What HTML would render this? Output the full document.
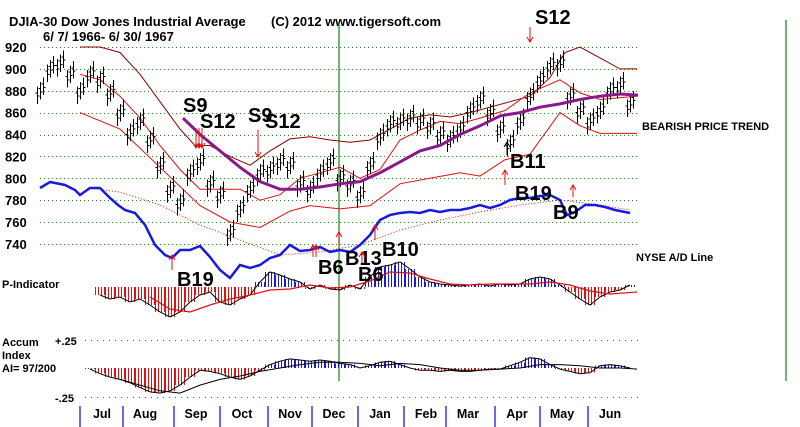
<!DOCTYPE html>
<html><head><meta charset="utf-8"><style>
body{margin:0;background:#fff;}
svg{display:block;font-family:"Liberation Sans",sans-serif;}
.t{font-weight:bold;font-size:12.5px;fill:#000}
.sig{font-weight:bold;font-size:20px;fill:#000}
</style></head><body>
<svg id="c" width="800" height="427" viewBox="0 0 800 427">
<g>
<text class="t" x="9" y="26" style="font-size:13px">DJIA-30  Dow Jones Industrial Average</text>
<text class="t" x="271" y="26" style="font-size:13px">(C) 2012 www.tigersoft.com</text>
<text class="t" x="43" y="41" style="font-size:13px">6/ 7/ 1966- 6/ 30/ 1967</text>
</g>
<g id="grid"></g><g id="ylab"></g>
<line x1="339" y1="24" x2="339" y2="381" stroke="#2a8a2a" stroke-width="1.3"/>
<line x1="786" y1="20" x2="786" y2="381" stroke="#2a8a2a" stroke-width="1.3"/>
<g id="marks"></g>
<g>
<text class="sig" x="183" y="112">S9</text>
<text class="sig" x="200" y="128">S12</text>
<text class="sig" x="248" y="122">S9</text>
<text class="sig" x="265" y="128">S12</text>
<text class="sig" x="535" y="24">S12</text>
<text class="sig" x="510" y="168">B11</text>
<text class="sig" x="515" y="200">B19</text>
<text class="sig" x="553" y="219">B9</text>
<text class="sig" x="177" y="286">B19</text>
<text class="sig" x="318" y="274">B6</text>
<text class="sig" x="345" y="265">B13</text>
<text class="sig" x="358" y="281">B6</text>
<text class="sig" x="382" y="256">B10</text>
<text class="t" x="642" y="130" style="font-size:11px">BEARISH PRICE TREND</text>
<text class="t" x="636" y="261" style="font-size:11px">NYSE A/D Line</text>
<text class="t" x="2" y="288" style="font-size:11px">P-Indicator</text>
<text class="t" x="2" y="346" style="font-size:11px">Accum</text>
<text class="t" x="2" y="359" style="font-size:11px">Index</text>
<text class="t" x="2" y="372" style="font-size:11px">AI= 97/200</text>
<text class="t" x="55" y="345" style="font-size:11px">+.25</text>
<text class="t" x="55" y="402" style="font-size:11px">-.25</text>
</g>
<g id="arrows"></g>
<g id="xaxis"></g>
</svg>
<script>
const NS="http://www.w3.org/2000/svg";
const priceTicks=[920,900,880,860,840,820,800,780,760,740];
const closes=[880,900,905,895,880,895,890,878,860,842,852,835,812,790,778,805,815,795,785,750,772,790,805,808,815,812,795,790,805,815,800,795,785,812,838,850,852,855,852,848,840,836,845,862,872,860,845,832,852,875,890,903,905,875,862,852,862,880,885,868];
const maX=[183,200,220,240,260,280,300,320,340,360,380,400,420,440,460,480,500,520,540,560,580,600,620,638];
const maVals=[855,840,825,810,797,790,790,792,795,797,805,815,825,830,840,848,857,860,865,868,872,875,877,876];
const upX=[80,100,120,140,160,180,195,210,230,250,270,290,310,330,350,370,390,410,430,450,470,490,510,530,550,565,580,600,620,637];
const upVals=[920,920,915,895,870,845,830,830,820,812,825,836,838,835,833,835,845,855,858,856,860,865,870,875,892,915,920,910,900,900];
const midX=[80,100,120,140,160,180,200,220,240,260,280,300,320,340,360,380,400,420,440,460,480,505,530,560,580,600,637];
const midVals=[895,890,875,855,830,808,790,790,790,780,785,800,805,810,800,808,835,844,852,850,855,862,878,890,878,872,875];
const lowX=[80,120,160,200,230,260,290,310,340,370,400,430,460,480,505,530,560,580,600,637];
const lowVals=[860,845,810,775,760,755,770,775,772,775,795,800,805,802,817,822,860,848,841,841];
const adX=[40,50,65,75,80,90,100,110,118,125,135,145,155,165,172,180,190,200,210,220,230,240,250,260,270,280,290,300,310,320,330,340,350,360,370,380,390,400,410,420,430,440,450,460,470,480,490,500,510,520,530,540,550,560,567,575,585,595,605,615,630];
const adVals=[92,98,95,90,85,92,92,82,75,70,67,55,35,25,22,30,30,34,23,10,2,15,12,15,22,25,35,29,30,33,28,30,28,35,45,60,65,67,68,67,70,68,70,70,72,75,72,75,80,82,82,84,85,80,65,68,75,75,73,70,67];
const adMaX=[88,120,160,200,240,280,320,360,400,440,480,520,560,600,630];
const adMaVals=[92,88,75,55,40,25,28,35,50,60,68,75,80,75,70];
const pX=[100,110,120,130,140,150,160,170,180,190,200,210,220,230,240,250,260,270,280,290,300,310,320,330,340,350,360,370,380,390,400,410,420,430,440,450,460,470,480,490,500,510,520,530,540,550,560,570,580,590,600,610,620,630];
const pVals=[-8,-12,-10,-15,-12,-18,-25,-30,-25,-15,-8,-5,-15,-18,-12,-8,5,15,12,8,5,-2,2,-2,-3,2,-2,10,20,22,25,18,10,5,3,2,1,2,3,1,3,2,3,8,10,8,2,-5,-12,-18,-10,-5,-3,2];
const pMaX=[150,170,190,210,230,250,270,290,310,330,350,370,390,410,430,450,470,490,510,530,550,570,590,610,637];
const pMaVals=[-10,-22,-25,-18,-12,-8,-3,-2,2,-1,0,6,15,14,8,3,2,3,3,3,5,2,-4,-7,-5];
const aiX=[90,100,110,120,130,140,150,160,170,180,190,200,210,220,230,240,250,260,270,280,290,300,310,320,330,340,350,360,370,380,390,400,410,420,430,440,450,460,470,480,490,500,510,520,530,540,550,560,570,580,590,600,610,620,630];
const aiVals=[-0.01,-0.05,-0.08,-0.1,-0.13,-0.17,-0.21,-0.22,-0.2,-0.15,-0.08,-0.02,-0.03,-0.05,-0.08,-0.1,-0.07,-0.02,0.03,0.06,0.08,0.07,0.06,0.07,0.06,0.04,0.03,0.0,0.02,0.05,0.06,0.03,0.0,-0.02,-0.02,-0.03,-0.02,-0.03,-0.03,-0.02,-0.01,-0.01,0.02,0.05,0.09,0.08,0.03,-0.01,-0.03,-0.05,-0.04,0.02,0.03,0.02,0.0];
const aiMaX=[120,140,160,180,200,220,240,260,280,300,320,340,360,380,400,420,440,460,480,500,520,540,560,580,600,620,637];
const aiMaVals=[-0.1,-0.15,-0.2,-0.22,-0.15,-0.1,-0.07,-0.03,0.0,0.03,0.05,0.05,0.04,0.02,0.04,0.03,0.0,-0.02,-0.02,-0.01,0.0,0.03,0.03,0.02,0.0,0.0,-0.01];
const months=["Jul","Aug","Sep","Oct","Nov","Dec","Jan","Feb","Mar","Apr","May","Jun"];
const monthTicks=[80,123,174,220,268,312,358,404,446,495,540,588];

const y=v=>47+(920-v)*1.094;
const bx=i=>40+i*10;
const adY=v=>280-v;
const pY=v=>287-v;
const aiY=v=>368-v*114;

function el(tag,attrs,parent){const e=document.createElementNS(NS,tag);for(const k in attrs)e.setAttribute(k,attrs[k]);parent.appendChild(e);return e;}
const grid=document.getElementById('grid'),ylab=document.getElementById('ylab'),marks=document.getElementById('marks'),arrows=document.getElementById('arrows'),xa=document.getElementById('xaxis');
priceTicks.forEach(v=>{
 const g=el('line',{x1:40,x2:638,y1:Math.round(y(v))+0.5,y2:Math.round(y(v))+0.5,stroke:'#2a8a2a','stroke-dasharray':'1 3','shape-rendering':'crispEdges'},grid);
 
 
 const t=el('text',{x:5,y:y(v)+5,class:'t',style:'font-size:13px'},ylab);t.textContent=v;
 
 
});
[340,397].forEach(yy=>{const g=el('line',{x1:85,x2:638,y1:yy+0.5,y2:yy+0.5,stroke:'#555','stroke-dasharray':'1 5','shape-rendering':'crispEdges'},grid);
 
 });
function line(xs,vs,f,attrs,name){const p=el('polyline',Object.assign({points:xs.map((x,i)=>x+','+f(vs[i]).toFixed(1)).join(' '),fill:'none'},attrs),marks);
 
 }
function stripes(xs,vs,f,pos,neg,name){xs.forEach((x,i)=>{const v=vs[i];const c=v>=0?pos:neg;
 for(let k=0;k<10;k+=3){const xx=x+k-5+0.5;const b=el('line',{x1:xx,x2:xx,y1:f(0),y2:f(v),stroke:c,'stroke-width':1,'shape-rendering':'crispEdges'},marks);
 
 }});}
stripes(pX,pVals,pY,'#1a1adc','#e01010','p-indicator-bar');
line(pX,pVals,pY,{stroke:'#000','stroke-width':1},'p-indicator-line');
line(pMaX,pMaVals,pY,{stroke:'#e01010','stroke-width':1.2},'p-indicator-ma');
stripes(aiX,aiVals,aiY,'#1a1adc','#e01010','accum-bar');
line(aiX,aiVals,aiY,{stroke:'#000','stroke-width':1},'accum-line');
line(aiMaX,aiMaVals,aiY,{stroke:'#000','stroke-width':1},'accum-ma');
line(upX,upVals,y,{stroke:'#8b0000','stroke-width':1},'upper-band');
line(midX,midVals,y,{stroke:'#e01010','stroke-width':1},'middle-band');
line(lowX,lowVals,y,{stroke:'#e01010','stroke-width':1},'lower-band');
line(adMaX,adMaVals,adY,{stroke:'#e01010','stroke-width':1,'stroke-dasharray':'1 2'},'ad-ma-line');
line(adX,adVals,adY,{stroke:'#1a1adc','stroke-width':2.5},'ad-line');
closes.forEach((c,i)=>{const x=bx(i);const g=el('g',{stroke:'#000','stroke-width':1,'shape-rendering':'crispEdges'},marks);
 
 
 for(let k=-1;k<=1;k++){const cc=c+k*4;const xx=x+k*3+0.5;
  el('line',{x1:xx,x2:xx,y1:y(cc+8),y2:y(cc-8)},g);
  el('line',{x1:xx-2,x2:xx,y1:y(cc+2),y2:y(cc+2)},g);
  el('line',{x1:xx,x2:xx+2,y1:y(cc-1),y2:y(cc-1)},g);}});
line(maX,maVals,y,{stroke:'#8a1a8a','stroke-width':3},'moving-average');
const arr=[[196,128,148,1],[199,128,148,1],[202,128,148,1],[258,130,157,1],[530,27,42,1],[505,185,170,0],[507,155,142,0,'#000'],[573,197,185,0],[172,270,255,0],[313,257,245,0],[316,257,245,0],[339,245,232,0],[375,240,225,0],[362,263,252,0]];
arr.forEach(a=>{const c=a[4]||'#e01010';const g=el('g',{stroke:c,fill:'none','stroke-width':1},arrows);
 
 
 el('line',{x1:a[0],x2:a[0],y1:a[1],y2:a[2]},g);
 const d=a[3]?-5:5;
 el('polyline',{points:`${a[0]-3},${a[2]+d} ${a[0]},${a[2]} ${a[0]+3},${a[2]+d}`},g);});
monthTicks.forEach((x,i)=>{const t=el('line',{x1:x,x2:x,y1:406,y2:427,stroke:'#1a1adc','stroke-width':1.3},xa);
 
 
 const l=el('text',{x:x+22,y:418,class:'t','text-anchor':'middle'},xa);l.textContent=months[i];
 
 });
</script>
</body></html>
